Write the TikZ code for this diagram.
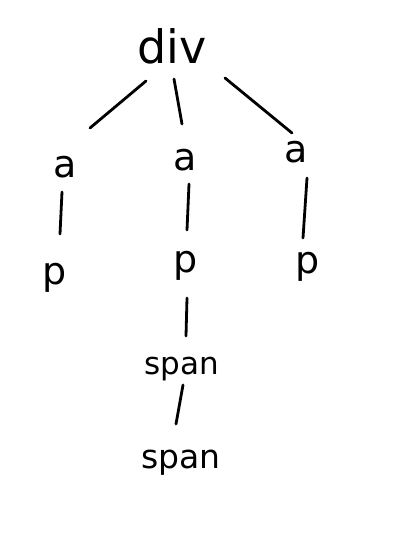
\documentclass[tikz,border=0pt]{standalone}
\usepackage{fontspec}
\setmainfont{DejaVu Sans}
\usetikzlibrary{calc}
\tikzset{
  lbl/.style={inner sep=0pt, font=\fontsize{#1}{#1}\selectfont},
  edge/.style={line width=2.8pt, line cap=round, black}
}
\begin{document}
\begin{tikzpicture}[x=1pt, y=-1pt]
\useasboundingbox[fill=white] (0,0) rectangle (416,535);
\node[lbl=46] (div) at (172,46) {div};
\node[lbl=38] (a1) at (65,167) {a};
\node[lbl=38] (a2) at (185,160) {a};
\node[lbl=38] (a3) at (296,152) {a};
\node[lbl=38] (p1) at (55,278) {p};
\node[lbl=38] (p2) at (186,266) {p};
\node[lbl=38] (p3) at (308,267) {p};
\node[lbl=31] (s1) at (182,369) {span};
\node[lbl=33] (s2) at (181,463) {span};
\draw[edge] ($(div)+(-26,35)$) -- ($(a1)+(25,-39)$);
\draw[edge] ($(div)+(2,33)$) -- ($(a2)+(-3,-36)$);
\draw[edge] ($(div)+(53,32)$) -- ($(a3)+(-4,-19)$);
\draw[edge] ($(a1)+(-3,25)$) -- ($(a1)+(-5,67)$);
\draw[edge] ($(a2)+(4,24)$) -- ($(a2)+(2,70)$);
\draw[edge] ($(a3)+(11,26)$) -- ($(a3)+(7,86)$);
\draw[edge] ($(p2)+(1,32)$) -- ($(p2)+(0,70)$);
\draw[edge] ($(s1)+(1,16)$) -- ($(s1)+(-6,55)$);
\end{tikzpicture}
\end{document}
